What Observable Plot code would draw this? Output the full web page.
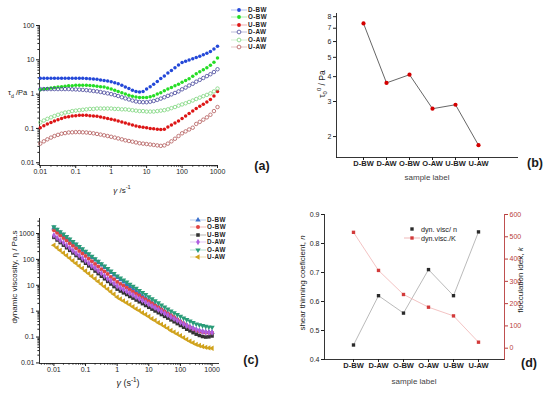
<!DOCTYPE html>
<html><head><meta charset="utf-8">
<script src="https://cdn.jsdelivr.net/npm/d3@7"></script>
<script src="https://cdn.jsdelivr.net/npm/@observablehq/plot@0.6"></script>
<style>
html,body{margin:0;padding:0;background:#fff;}
#root{position:relative;width:550px;height:393px;overflow:hidden;font-family:"Liberation Sans",Arial,sans-serif;color:#1a1a1a;}
.abs{position:absolute;white-space:nowrap;line-height:1;}
.tag{font-weight:bold;font-size:12.5px;}
sub,sup{font-size:70%;line-height:0;}
</style></head><body><div id="root"></div>
<script>
// ---------- DATA ----------
const shearRate = [0.01,0.0126,0.0158,0.02,0.0251,0.0316,0.0398,0.0501,0.0631,0.0794,
 0.1,0.126,0.158,0.2,0.251,0.316,0.398,0.501,0.631,0.794,
 1,1.26,1.58,2,2.51,3.16,3.98,5.01,6.31,7.94,
 10,12.6,15.8,20,25.1,31.6,39.8,50.1,63.1,79.4,
 100,126,158,200,251,316,398,501,631,794,1000];

// panel (a): tau_d / Pa
const tauDBW = [2.9,2.9,2.9,2.9,2.9,2.9,2.9,2.9,2.9,2.9,
 2.9,2.9,2.9,2.85,2.8,2.75,2.7,2.6,2.5,2.4,
 2.3,2.15,2.0,1.8,1.6,1.45,1.3,1.2,1.15,1.2,
 1.4,1.65,1.95,2.35,2.85,3.4,4.1,4.9,5.9,7.1,
 8.3,9.1,9.9,10.8,11.7,12.7,14,15.5,17.5,20.5,25];
const tauOBW = [1.35,1.4,1.45,1.5,1.55,1.6,1.65,1.7,1.75,1.75,
 1.8,1.8,1.8,1.8,1.78,1.75,1.7,1.65,1.6,1.5,
 1.4,1.3,1.2,1.1,1.0,0.92,0.86,0.82,0.8,0.79,
 0.8,0.84,0.9,1.0,1.1,1.25,1.4,1.55,1.75,1.95,
 2.2,2.5,2.8,3.3,3.9,4.5,5.1,5.9,6.9,8.5,11.2];
const tauUBW = [0.105,0.12,0.135,0.15,0.165,0.18,0.195,0.21,0.22,0.23,
 0.235,0.24,0.24,0.24,0.235,0.23,0.225,0.215,0.205,0.195,
 0.185,0.175,0.165,0.155,0.145,0.135,0.125,0.118,0.112,0.108,
 0.105,0.1,0.097,0.095,0.093,0.095,0.11,0.125,0.145,0.165,
 0.195,0.23,0.27,0.32,0.38,0.44,0.51,0.59,0.7,0.88,1.2];
const tauDAW = [1.4,1.4,1.4,1.4,1.4,1.4,1.4,1.4,1.4,1.38,
 1.37,1.35,1.33,1.3,1.27,1.23,1.2,1.15,1.1,1.05,
 1.0,0.94,0.88,0.81,0.75,0.7,0.65,0.61,0.59,0.58,
 0.58,0.6,0.63,0.68,0.74,0.81,0.89,0.98,1.08,1.2,
 1.38,1.55,1.78,2.0,2.3,2.6,2.95,3.35,3.8,4.4,5.3];
const tauOAW = [0.15,0.17,0.19,0.21,0.23,0.25,0.27,0.29,0.3,0.32,
 0.33,0.34,0.35,0.36,0.37,0.37,0.38,0.38,0.38,0.38,
 0.38,0.37,0.37,0.36,0.36,0.35,0.34,0.33,0.32,0.32,
 0.31,0.31,0.31,0.32,0.33,0.34,0.36,0.39,0.42,0.46,
 0.5,0.54,0.59,0.65,0.72,0.79,0.87,0.95,1.05,1.2,1.45];
const tauUAW = [0.036,0.042,0.048,0.054,0.06,0.065,0.07,0.073,0.076,0.077,
 0.078,0.078,0.077,0.076,0.074,0.072,0.069,0.066,0.063,0.06,
 0.057,0.054,0.051,0.048,0.045,0.043,0.041,0.039,0.037,0.036,
 0.035,0.034,0.033,0.032,0.031,0.032,0.036,0.042,0.05,0.06,
 0.072,0.082,0.093,0.105,0.135,0.155,0.18,0.21,0.25,0.32,0.42];

// panel (c): dynamic viscosity / Pa.s
const etaDBW = [1650,1320,1060,850,680,550,440,355,285,228,
 183,147,118,95,76,61,49,39,31,25,
 20,16.3,13.3,10.8,8.8,7.2,5.9,4.8,3.9,3.2,
 2.6,2.15,1.78,1.47,1.22,1.0,0.83,0.69,0.57,0.48,
 0.4,0.34,0.29,0.25,0.22,0.195,0.178,0.166,0.158,0.154,0.152];
const etaOBW = [1340,1065,845,672,534,424,337,268,213,169,
 134,107,85,67,53,42,34,27,21,17,
 13.4,11.3,9.5,8.0,6.7,5.6,4.7,4.0,3.3,2.8,
 2.4,2.0,1.66,1.4,1.17,0.98,0.82,0.69,0.58,0.48,
 0.4,0.33,0.28,0.24,0.205,0.18,0.165,0.155,0.15,0.148,0.148];
const etaUBW = [708,562,447,355,282,224,178,141,112,89,
 71,56,45,35.5,28.2,22.4,17.8,14.1,11.2,8.9,
 7.1,6.0,5.1,4.4,3.7,3.2,2.7,2.3,1.95,1.66,
 1.41,1.2,1.02,0.87,0.74,0.63,0.54,0.46,0.39,0.33,
 0.28,0.24,0.2,0.174,0.148,0.129,0.115,0.105,0.1,0.102,0.11];
const etaDAW = [850,676,537,437,347,275,219,174,141,112,
 89,71,56,46,36,29,23,18,14.8,11.7,
 9.3,7.9,6.8,5.8,4.9,4.2,3.5,3.0,2.6,2.2,
 1.86,1.58,1.35,1.15,0.98,0.83,0.71,0.6,0.51,0.44,
 0.37,0.32,0.275,0.24,0.214,0.19,0.174,0.162,0.155,0.151,0.151];
const etaOAW = [1820,1460,1175,944,759,610,490,394,316,254,
 204,164,132,106,85,68,55,44,35.5,28.5,
 22.9,19.1,15.8,13.2,11.0,9.1,7.6,6.3,5.2,4.4,
 3.6,3.0,2.5,2.1,1.74,1.45,1.2,1.02,0.87,0.74,
 0.63,0.54,0.47,0.41,0.36,0.32,0.295,0.275,0.257,0.245,0.24];
const etaUAW = [355,282,224,178,141,112,89,71,56,45,
 35.5,28.2,22.4,17.8,14.1,11.2,8.9,7.1,5.6,4.5,
 3.5,2.95,2.5,2.1,1.78,1.48,1.23,1.05,0.87,0.74,
 0.62,0.51,0.44,0.36,0.31,0.26,0.22,0.18,0.155,0.132,
 0.112,0.095,0.081,0.069,0.06,0.052,0.047,0.043,0.04,0.038,0.037];

// panel (b)
const samples = ["D-BW","D-AW","O-BW","O-AW","U-BW","U-AW"];
const yieldStress = [7.4,3.72,4.09,2.76,2.89,1.81];
// panel (d)
const shearN = [0.45,0.62,0.56,0.71,0.62,0.84];
const flocK = [520,349,241,184,145,27];

// tick labels
const ticksA_x = [0.01,0.1,1,10,100,1000];
const ticksA_y = [0.01,0.1,1,10,100];
const ticksB_y = [2,3,4,5,6,7,8];
const ticksC_y = [0.01,0.1,1,10,100,1000];
const ticksD_n = [0.4,0.5,0.6,0.7,0.8,0.9];
const ticksD_k = [0,100,200,300,400,500,600];

// ---------- helpers ----------
const root = document.getElementById("root");
const FONT = "Liberation Sans, Arial, sans-serif";
const INK = "#1e1e1e";
function put(el, left, top){ el.style.position="absolute"; el.style.left=left+"px"; el.style.top=top+"px"; root.appendChild(el); return el; }
function text(html, x, y, css={}, anchor="center"){
  const d=document.createElement("div"); d.className="abs"; d.innerHTML=html;
  const {rot, ...rest} = css;
  Object.assign(d.style, rest);
  const tr = anchor==="center" ? "translate(-50%,-50%)" : "translate(0,-50%)";
  d.style.transform = tr + (rot ? " rotate("+rot+")" : "");
  put(d,x,y); return d;
}
function minorLog(lo, hi){
  const out=[];
  for(let e=Math.floor(Math.log10(lo)); e<=Math.ceil(Math.log10(hi)); e++){
    for(let k=2;k<=9;k++){ const v=k*Math.pow(10,e); if(v>=lo && v<=hi) out.push(v); }
  }
  return out;
}
const blank = () => "";
const baseStyle = {fontFamily: FONT, fontSize: "7px", color: INK, background: "transparent", overflow: "visible"};
function symPath(type, r){ return d3.symbol().type(type).size(Math.PI*r*r)(); }
const legendFont = {fontSize:"6.3px", fontWeight:"bold", letterSpacing:"0.4px", lineHeight:"6.3px"};
function legend(items, x0, y0, dy, textCss=legendFont){
  items.forEach((it,i)=>{
    const y = y0 + i*dy;
    const svg = document.createElementNS("http://www.w3.org/2000/svg","svg");
    svg.setAttribute("width",16); svg.setAttribute("height",8);
    svg.innerHTML = (it.noLine ? "" : `<line x1="0" y1="4" x2="16" y2="4" stroke="${it.color}" stroke-opacity="0.45" stroke-width="0.8"/>`)+
      `<path d="${symPath(it.symbol||d3.symbolCircle, it.r||1.9)}" transform="translate(8,4) rotate(${it.rotate||0})" fill="${it.open?'white':it.color}" stroke="${it.color}" stroke-width="${it.open?0.8:0}"/>`;
    svg.style.position="absolute"; svg.style.left=(x0-8)+"px"; svg.style.top=(y-4)+"px";
    root.appendChild(svg);
    text(it.name, x0+9, y, textCss, "left");
  });
}
// tick label marks (drawn through the plot's own scales)
const yLabels = (ticks, fmt=String) => Plot.text(ticks, {y:d=>d, text:d=>fmt(d), frameAnchor:"left", dx:-5, textAnchor:"end", fontSize:7, fill:INK});
const xLabels = (ticks, fmt=String, extra={}) => Plot.text(ticks, {x:d=>d, text:d=>fmt(d), frameAnchor:"bottom", dy:8.5, fontSize:7, fill:INK, ...extra});

// ---------- panel (a) ----------
const aSeries = [
  {name:"D-BW", v:tauDBW, color:"#2448d8", open:false},
  {name:"O-BW", v:tauOBW, color:"#25dd25", open:false},
  {name:"U-BW", v:tauUBW, color:"#dd1616", open:false},
  {name:"D-AW", v:tauDAW, color:"#45459a", open:true},
  {name:"O-AW", v:tauOAW, color:"#7dd67d", open:true},
  {name:"U-AW", v:tauUAW, color:"#b25a5a", open:true}
];
const aX=[0.0095,1000], aY=[0.0083,100];
const plotA = Plot.plot({
  width:275, height:200, marginLeft:39, marginRight:58, marginTop:25, marginBottom:35,
  x:{type:"log", domain:aX}, y:{type:"log", domain:aY}, style: baseStyle,
  marks:[
    Plot.frame({anchor:"left", stroke:INK, strokeWidth:0.9}),
    Plot.frame({anchor:"bottom", stroke:INK, strokeWidth:0.9}),
    Plot.axisX(ticksA_x, {tickSize:3, tickFormat:blank, label:null}),
    Plot.axisX(minorLog(aX[0],aX[1]), {tickSize:1.6, tickFormat:blank, label:null}),
    Plot.axisY(ticksA_y, {tickSize:3, tickFormat:blank, label:null}),
    Plot.axisY(minorLog(aY[0],aY[1]), {tickSize:1.6, tickFormat:blank, label:null}),
    xLabels(ticksA_x), yLabels(ticksA_y),
    ...aSeries.map(s => Plot.dot(s.v.map((y,i)=>({x:shearRate[i], y})), {
      x:"x", y:"y", r:1.75,
      fill: s.open ? "none" : s.color, stroke: s.open ? s.color : "none", strokeWidth: 0.8
    }))
  ]
});
put(plotA, 0, 0);
legend(aSeries.map(s=>({name:s.name,color:s.color,open:s.open})), 239, 10, 7.4);
text("τ<sub>d</sub> /Pa", 8, 93, {fontSize:"7.5px"}, "left");
text("<i>γ</i> /s<sup>-1</sup>", 122, 191, {fontSize:"8px"});
text("(a)", 262, 166).classList.add("tag");

// ---------- panel (b) ----------
const bData = samples.map((s,i)=>({s, v:yieldStress[i]}));
const plotB = Plot.plot({
  width:275, height:200, marginLeft:61, marginRight:33, marginTop:13, marginBottom:43,
  x:{type:"point", domain:samples, range:[76,214]},
  y:{type:"log", domain:[1.57,8.3]}, style: baseStyle,
  marks:[
    Plot.frame({anchor:"left", stroke:INK, strokeWidth:0.9}),
    Plot.frame({anchor:"bottom", stroke:INK, strokeWidth:0.9}),
    Plot.axisY(ticksB_y, {tickSize:3, tickFormat:blank, label:null}),
    yLabels(ticksB_y),
    Plot.axisX(samples, {tickSize:3, tickFormat:blank, label:null}),
    xLabels(samples, String, {dy:8, fontSize:7.5, fontWeight:"bold"}),
    Plot.line(bData, {x:"s", y:"v", stroke:"#555", strokeWidth:0.9}),
    Plot.dot(bData, {x:"s", y:"v", r:2.1, fill:"#d40000"})
  ]
});
put(plotB, 275, 0);
text("τ<sub>0</sub><sup>0</sup> / Pa", 322, 84, {fontSize:"8.5px", rot:"-90deg"});
text("sample label", 427, 178, {fontSize:"8px", color:"#444"});
text("(b)", 535, 163).classList.add("tag");

// ---------- panel (c) ----------
const cSeries = [
  {name:"D-BW", v:etaDBW, color:"#3a6fcc", symbol:d3.symbolTriangle, sym:"triangle", rotate:0},
  {name:"O-BW", v:etaOBW, color:"#e04545", symbol:d3.symbolCircle, sym:"circle", rotate:0},
  {name:"U-BW", v:etaUBW, color:"#333333", symbol:d3.symbolSquare, sym:"square", rotate:0},
  {name:"D-AW", v:etaDAW, color:"#b05ee0", symbol:d3.symbolDiamond, sym:"diamond", rotate:0},
  {name:"O-AW", v:etaOAW, color:"#2a9c78", symbol:d3.symbolTriangle, sym:"triangle", rotate:180},
  {name:"U-AW", v:etaUAW, color:"#d0a21c", symbol:d3.symbolTriangle, sym:"triangle", rotate:-90}
];
const cX=[0.0035,1600], cY=[0.0095,3800];
const plotC = Plot.plot({
  width:275, height:193, marginLeft:39, marginRight:57, marginTop:18, marginBottom:30,
  x:{type:"log", domain:cX}, y:{type:"log", domain:cY}, style: baseStyle,
  marks:[
    Plot.frame({anchor:"left", stroke:INK, strokeWidth:0.9}),
    Plot.frame({anchor:"bottom", stroke:INK, strokeWidth:0.9}),
    Plot.axisX(ticksA_x, {tickSize:3, tickFormat:blank, label:null}),
    Plot.axisX(minorLog(cX[0],cX[1]), {tickSize:1.6, tickFormat:blank, label:null}),
    Plot.axisY(ticksC_y, {tickSize:3, tickFormat:blank, label:null}),
    Plot.axisY(minorLog(cY[0],cY[1]), {tickSize:1.6, tickFormat:blank, label:null}),
    xLabels(ticksA_x), yLabels(ticksC_y),
    ...cSeries.flatMap(s => {
      const data = s.v.map((y,i)=>({x:shearRate[i], y}));
      return [
        Plot.line(data, {x:"x", y:"y", stroke:s.color, strokeWidth:0.6, strokeOpacity:0.7}),
        Plot.dot(data, {x:"x", y:"y", r:2, fill:s.color, stroke:"none", rotate:s.rotate, symbol:s.sym})
      ];
    })
  ]
});
put(plotC, 0, 200);
legend(cSeries.map(s=>({name:s.name,color:s.color,symbol:s.symbol,rotate:s.rotate,r:2})), 198, 220, 7.4);
text("dynamic viscosity, η / Pa.s", 15, 277, {fontSize:"8px", rot:"-90deg"});
text("<i>γ</i> (s<sup>-1</sup>)", 128, 383, {fontSize:"9px"});
text("(c)", 251, 360).classList.add("tag");

// ---------- panel (d) ----------
const dData = samples.map((s,i)=>({s, n:shearN[i], k:flocK[i]}));
const dCommon = {width:275, height:193, marginLeft:49, marginRight:46, marginTop:14, marginBottom:34, style: baseStyle};
const plotD1 = Plot.plot({...dCommon,
  x:{type:"point", domain:samples, range:[65,215]},
  y:{domain:[0.4,0.9]},
  marks:[
    Plot.frame({anchor:"left", stroke:INK, strokeWidth:0.9}),
    Plot.frame({anchor:"bottom", stroke:INK, strokeWidth:0.9}),
    Plot.axisY(ticksD_n, {tickSize:3, tickFormat:blank, label:null}),
    yLabels(ticksD_n, d3.format(".1f")),
    Plot.axisX(samples, {tickSize:3, tickFormat:blank, label:null}),
    xLabels(samples, String, {dy:8, fontSize:7.5, fontWeight:"bold"}),
    Plot.line(dData, {x:"s", y:"n", stroke:"#a8a8a8", strokeWidth:0.8}),
    Plot.dot(dData, {x:"s", y:"n", symbol:"square", r:1.9, fill:"#2a2a2a"})
  ]
});
const RED = "#b83c3c";
const plotD2 = Plot.plot({...dCommon,
  x:{type:"point", domain:samples, range:[65,215], axis:null},
  y:{domain:[-50.7,600]},
  marks:[
    Plot.frame({anchor:"right", stroke:RED, strokeWidth:0.9}),
    Plot.axisY(ticksD_k, {anchor:"right", tickSize:3, tickFormat:blank, label:null, stroke:RED}),
    Plot.text(ticksD_k, {y:d=>d, text:d=>String(d), frameAnchor:"right", dx:5, textAnchor:"start", fontSize:7, fill:RED}),
    Plot.line(dData, {x:"s", y:"k", stroke:"#f0b4b4", strokeWidth:0.8}),
    Plot.dot(dData, {x:"s", y:"k", symbol:"square", r:1.9, fill:"#d23a3a"})
  ]
});
put(plotD1, 275, 200);
put(plotD2, 275, 200);
legend([{name:"dyn. visc/ n", color:"#2a2a2a", symbol:d3.symbolSquare, r:1.9, noLine:true},
        {name:"dyn.visc./K", color:"#d23a3a", symbol:d3.symbolSquare, r:1.9}], 412, 229, 8.5,
       {fontSize:"7.2px", fontWeight:"normal", lineHeight:"7px"});
text("shear thinning coeficient, <i>n</i>", 303, 283, {fontSize:"8px", rot:"-90deg"});
text("flocculation idex, <i>k</i>", 521, 280, {fontSize:"8px", rot:"-90deg"});
text("sample label", 414, 382, {fontSize:"8px", color:"#444"});
text("(d)", 529, 363).classList.add("tag");
</script>
</body></html>
